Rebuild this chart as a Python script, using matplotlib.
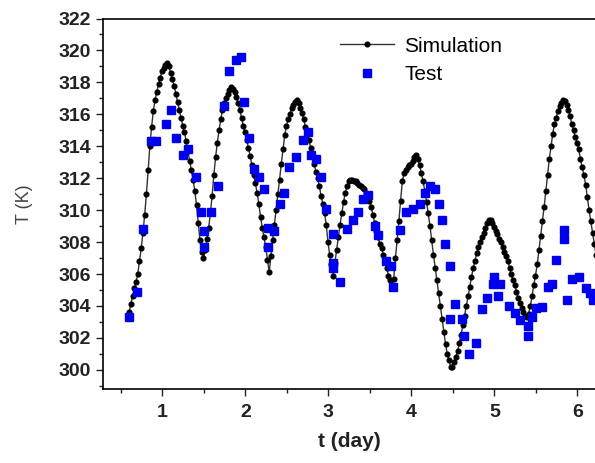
import matplotlib
matplotlib.use("Agg")
import matplotlib.pyplot as plt
import numpy as np
from matplotlib.ticker import MultipleLocator

plt.rcParams['font.family'] = ['Liberation Sans', 'DejaVu Sans']

# simulation, sampled every half hour starting at t = 0.6 day
sim_t0 = 0.6
sim_step = 1 / 48
sim_T = [
    303.6, 304.1, 304.6, 305.1, 305.5, 306.0, 306.8, 307.6, 308.6, 309.7,
    311.0, 312.5, 314.0, 315.2, 316.2, 316.9, 317.4, 317.9, 318.3, 318.7,
    318.9, 319.1, 319.2, 319.0, 318.6, 318.2, 317.8, 317.3, 316.8, 316.3,
    315.8, 315.3, 314.9, 314.3, 313.7, 313.1, 312.5, 311.9, 311.2, 310.3,
    309.2, 308.1, 307.4, 307.0, 307.5, 308.2, 308.9, 309.8, 310.9, 312.2,
    313.3, 314.2, 315.0, 315.7, 316.3, 316.7, 317.0, 317.3, 317.5, 317.7,
    317.6, 317.4, 317.1, 316.7, 316.3, 315.8, 315.3, 314.9, 314.4, 313.9,
    313.4, 312.8, 312.2, 311.7, 311.1, 310.4, 309.6, 308.9, 308.3, 307.7,
    306.9, 306.1, 307.1, 308.1, 309.1, 310.0, 311.0, 311.9, 312.9, 313.8,
    314.7, 315.3, 315.7, 316.0, 316.4, 316.6, 316.8, 316.9, 316.7, 316.4,
    316.1, 315.7, 315.2, 314.8, 314.4, 313.9, 313.4, 312.9, 312.4, 312.0,
    311.5, 310.9, 310.4, 309.8, 309.1, 308.0, 307.2, 306.6, 305.9, 306.7,
    307.5, 308.3, 309.1, 309.8, 310.5, 311.1, 311.5, 311.8, 311.9, 311.9,
    311.8, 311.8, 311.7, 311.6, 311.5, 311.4, 311.3, 311.1, 310.9, 310.6,
    310.2, 309.7, 309.2, 308.7, 308.3, 307.9, 307.6, 307.2, 306.8, 306.4,
    305.9, 305.6, 305.3, 305.7, 307.0, 308.1, 309.3, 310.6, 311.8, 312.3,
    312.5, 312.7, 312.8, 312.9, 313.1, 313.3, 313.45, 313.2, 312.8, 312.3,
    311.8, 311.2, 310.5, 309.8, 309.0, 308.1, 307.2, 306.4, 305.6, 304.8,
    304.0, 303.2, 302.4, 301.6, 301.0, 300.6, 300.2, 300.2, 300.5, 300.8,
    301.2, 301.7, 302.2, 302.8, 303.4, 304.0, 304.6, 305.2, 305.8, 306.4,
    306.8, 307.3, 307.7, 308.0, 308.3, 308.6, 308.9, 309.2, 309.4, 309.4,
    309.2, 308.95, 308.7, 308.5, 308.2, 308.0, 307.7, 307.4, 307.1, 306.8,
    306.4, 306.0, 305.6, 305.3, 304.9, 304.5, 304.2, 303.9, 303.6, 303.4,
    303.3, 303.5, 304.0, 304.6, 305.3, 305.9, 306.6, 307.5, 308.4, 309.3,
    310.2, 311.2, 312.2, 313.2, 314.0, 314.8, 315.4, 315.8, 316.2, 316.5,
    316.7, 316.9, 316.85, 316.6, 316.3, 315.9, 315.4, 315.0, 314.6, 314.2,
    313.8, 313.2, 312.7, 312.2, 311.6, 310.8, 310.0, 309.3, 308.6, 307.9,
    307.2,
]
sim_t = sim_t0 + np.arange(len(sim_T)) * sim_step

# measured temperatures
test_t = [
    0.60, 0.70, 0.77, 0.86, 0.93, 1.045, 1.10, 1.165, 1.245, 1.305,
    1.406, 1.466, 1.506, 1.506, 1.587, 1.667, 1.747, 1.807, 1.888, 1.948,
    1.988, 2.048, 2.108, 2.169, 2.222, 2.275, 2.275, 2.35, 2.418, 2.47,
    2.53, 2.61, 2.69, 2.75, 2.79, 2.85, 2.91, 2.97, 3.06, 3.055,
    3.055, 3.14, 3.22, 3.30, 3.36, 3.42, 3.48, 3.56, 3.60, 3.70,
    3.76, 3.78, 3.86, 3.94, 4.02, 4.10, 4.165, 4.225, 4.28, 4.33,
    4.37, 4.40, 4.47, 4.53, 4.47, 4.61, 4.635, 4.70, 4.78, 4.855,
    4.915, 4.98, 5.00, 5.07, 5.04, 5.18, 5.25, 5.31, 5.40, 5.40,
    5.45, 5.50, 5.57, 5.645, 5.70, 5.74, 5.835, 5.835, 5.88, 5.94,
    6.02, 6.10, 6.155, 6.19,
]
test_T = [
    303.3, 304.9, 308.8, 314.3, 314.3, 315.4, 316.3, 314.5, 313.45, 313.8,
    312.1, 309.9, 308.7, 307.7, 309.9, 311.5, 316.5, 318.7, 319.4, 319.6,
    316.8, 314.5, 312.6, 312.1, 311.3, 308.9, 307.7, 308.7, 310.4, 311.05,
    312.7, 313.3, 314.4, 314.9, 313.45, 313.2, 312.1, 310.1, 308.5, 306.7,
    306.4, 305.5, 308.8, 309.4, 309.9, 310.7, 310.95, 309.0, 308.45, 306.8,
    306.5, 305.2, 308.75, 309.9, 310.1, 310.4, 311.05, 311.5, 311.3, 310.4,
    309.4, 307.9, 306.5, 304.1, 303.2, 303.2, 302.1, 301.0, 301.7, 303.8,
    304.5, 305.4, 305.8, 305.35, 304.6, 304.0, 303.55, 303.15, 302.75, 302.1,
    303.3, 303.85, 303.95, 305.2, 305.4, 306.85, 308.75, 308.2, 304.35, 305.7,
    305.8, 305.15, 304.8, 304.4,
]

fig = plt.figure(figsize=(5.95, 4.63), dpi=100)
ax = fig.add_axes([0.1736, 0.1598, 0.8264, 0.8002])

ax.plot(sim_t, sim_T, color='#333333', lw=1.0, marker='o', ms=3.4,
        mfc='black', mec='black', label='Simulation', zorder=3)
ax.plot(test_t, test_T, ls='none', marker='s', ms=5.3, color='#0000f0',
        label='Test', zorder=4)

ax.set_xlim(0.289, 6.213)
ax.set_ylim(298.8, 322)
ax.xaxis.set_major_locator(MultipleLocator(1))
ax.xaxis.set_minor_locator(MultipleLocator(0.5))
ax.yaxis.set_major_locator(MultipleLocator(2))
ax.yaxis.set_minor_locator(MultipleLocator(1))

ax.spines['right'].set_visible(False)
for s in ['left', 'bottom', 'top']:
    ax.spines[s].set_linewidth(1.2)
ax.tick_params(which='both', direction='out', top=False, right=False,
               width=1.0, color='#222222')
ax.tick_params(which='major', length=5, pad=4, labelsize=14, labelcolor='#222222')
ax.tick_params(axis='x', which='major', pad=6)
ax.tick_params(which='minor', length=3)
for lab in ax.get_xticklabels() + ax.get_yticklabels():
    lab.set_fontweight('bold')

ax.set_xlabel('t (day)', fontsize=15, fontweight='bold', color='#222222', labelpad=8)
ax.set_ylabel('T (K)', fontsize=13, color='#444444', labelpad=18)

ax.legend(loc='upper left', bbox_to_anchor=(0.481, 0.951), frameon=False,
          fontsize=15, handlelength=2.6, handletextpad=0.5, borderpad=0,
          borderaxespad=0, labelspacing=0.45)

fig.savefig('out.png', dpi=100)
